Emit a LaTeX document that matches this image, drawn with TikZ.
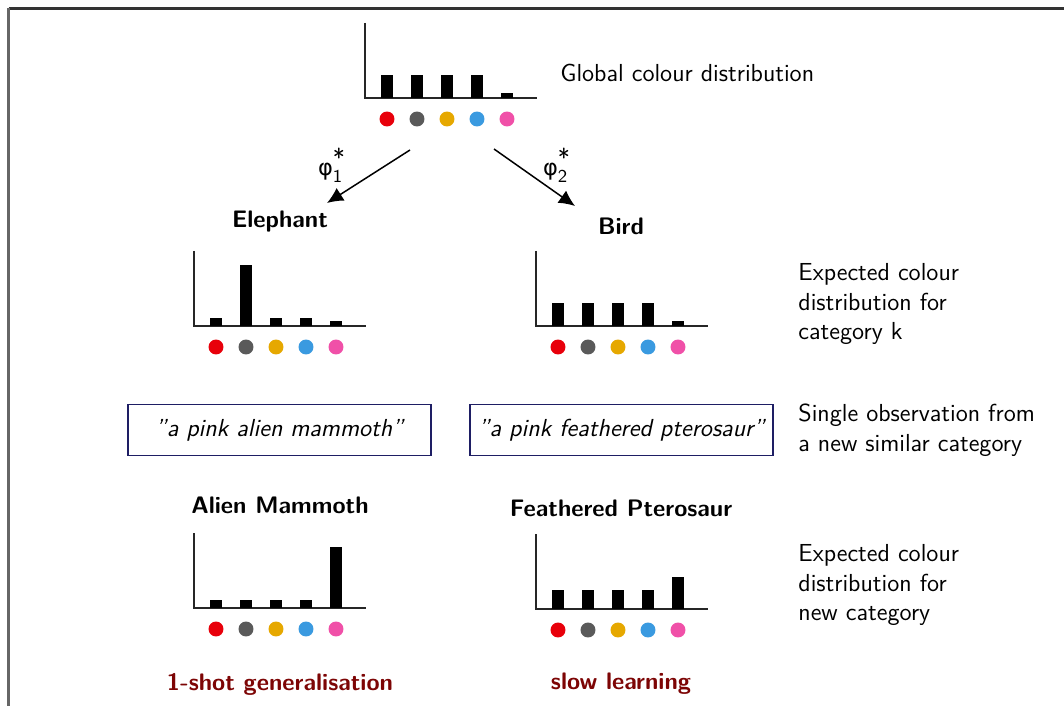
\documentclass[tikz,border=0pt]{standalone}
\usepackage{fontspec}
\newfontfamily\greekfont{DejaVu Sans}
\renewcommand{\familydefault}{\sfdefault}
\usetikzlibrary{arrows.meta}

\definecolor{cred}{RGB}{232,0,11}
\definecolor{cgray}{RGB}{90,90,90}
\definecolor{cgold}{RGB}{230,168,0}
\definecolor{cblue}{RGB}{58,154,224}
\definecolor{cpink}{RGB}{240,80,168}
\definecolor{boxblue}{RGB}{30,30,100}
\definecolor{darkred}{RGB}{125,5,5}

\newcommand{\basesize}{\fontsize{11.5}{14}\selectfont}
\newcommand{\boldsize}{\fontsize{11.15}{14}\selectfont}
\newcommand{\phiweight}[1]{$\mbox{\greekfont\fontsize{10.5}{12}\selectfont φ}^{\mbox{\fontsize{11.5}{11}\selectfont\sffamily *}}_{\mbox{\fontsize{8.5}{9}\selectfont\sffamily #1}}$}

\tikzset{
  axisline/.style={draw=black!85, line width=0.65pt},
  plain/.style={font=\basesize\sffamily},
  caption/.style={font=\boldsize\sffamily\bfseries, text=black},
  verdict/.style={font=\boldsize\sffamily\bfseries, text=darkred},
  note/.style={plain, anchor=west, align=left, inner sep=0pt},
  quotebox/.style={draw=boxblue, line width=0.5pt, minimum width=141.6pt,
    minimum height=23.4pt, inner sep=0pt, font=\basesize\sffamily\itshape},
  link/.style={-{Latex[length=7.5pt,width=7pt]}, line width=0.7pt},
  pics/histo/.style n args={5}{code={
    \draw[axisline] (0,-75) -- (0,0) -- (172,0);
    \foreach \h [count=\i from 0] in {#1,#2,#3,#4,#5}
      \fill[black] (16+30*\i,0) rectangle (28+30*\i,-\h);
    \foreach \c [count=\i from 0] in {cred,cgray,cgold,cblue,cpink}
      \fill[\c] (22+30*\i,21) circle[radius=3.5pt];
  }}
}

\begin{document}
\begin{tikzpicture}[x=0.4673pt, y=-0.4673pt, every node/.append style={plain}]
\useasboundingbox (0,0) rectangle (1064,706);
\fill[white] (0,0) rectangle (1064,706);

% outer frame
\draw[black!80, line width=1pt] (8.5,8.5) -- (1064,8.5);
\draw[black!60, line width=1pt] (8.5,8.5) -- (8.5,706);

% histograms
\pic at (365,98)  {histo={23}{23}{23}{23}{5}};
\pic at (194,326) {histo={8}{61}{8}{8}{5}};
\pic at (536,326) {histo={23}{23}{23}{23}{5}};
\pic at (194,608) {histo={8}{8}{8}{8}{61}};
\pic at (536,609) {histo={19}{19}{19}{19}{32}};

% labels on the right
\node[note] (global) at (560,73) {Global colour distribution};
\node[note] (expk) at (798,304) {Expected colour\\distribution for\\category k};
\node[note] (single) at (798,430) {Single observation from\\a new similar category};
\node[note] (expnew) at (798,585) {Expected colour\\distribution for\\new category};

% arrows from the global distribution
\coordinate (s1) at (410,150);
\coordinate (e1) at (327,203);
\coordinate (s2) at (494,149);
\coordinate (e2) at (575,206);
\draw[link] (s1) -- (e1);
\draw[link] (s2) -- (e2);
\node (phi1) at (332,165) {\phiweight{1}};
\node (phi2) at (557,165) {\phiweight{2}};

% category titles
\node[caption] (eleph) at (280,222) {Elephant};
\node[caption] (bird) at (621,226) {Bird};
\node[caption] (mammoth) at (280,505) {Alien Mammoth};
\node[caption] (ptero) at (621,508) {Feathered Pterosaur};

% observations
\node[quotebox] (obs1) at (279.5,430) {\symbol{34}a pink alien mammoth\symbol{34}};
\node[quotebox] (obs2) at (621.5,430) {\symbol{34}a pink feathered pterosaur\symbol{34}};

% outcomes
\node[verdict] (oneshot) at (280,684) {1-shot generalisation};
\node[verdict] (slow) at (621,684) {slow learning};
\end{tikzpicture}
\end{document}
